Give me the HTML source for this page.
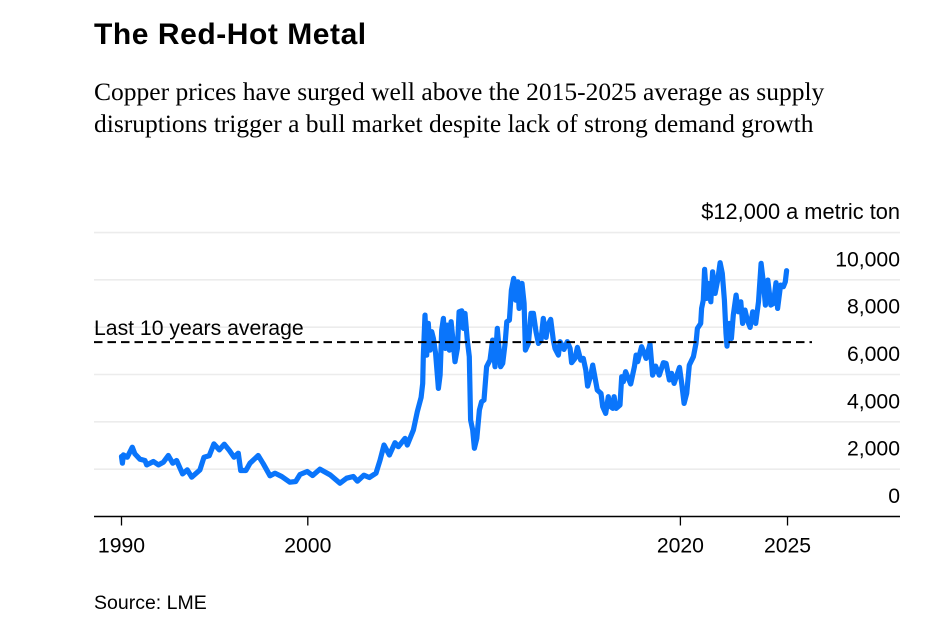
<!DOCTYPE html>
<html lang="en">
<head>
<meta charset="utf-8">
<title>The Red-Hot Metal</title>
<style>
html,body{margin:0;padding:0;background:#fff;}
body{width:939px;height:636px;overflow:hidden;position:relative;}
svg{position:absolute;left:0;top:0;}
.sans{font-family:"Liberation Sans",sans-serif;fill:#000;}
.serif{font-family:"Liberation Serif",serif;fill:#000;}
</style>
</head>
<body>
<svg id="chart" width="939" height="636" viewBox="0 0 939 636" xmlns="http://www.w3.org/2000/svg">
  <text class="sans" x="94" y="44" font-size="30" font-weight="700" letter-spacing="0.55">The Red-Hot Metal</text>
  <text class="serif" x="94" y="100" font-size="25.5">Copper prices have surged well above the 2015-2025 average as supply</text>
  <text class="serif" x="94" y="132" font-size="25.5">disruptions trigger a bull market despite lack of strong demand growth</text>
  <g id="grid"></g>
  <g id="ylabels"></g>
  <path id="series" fill="none" stroke="#0a75fb" stroke-width="5.2" stroke-linejoin="round" stroke-linecap="round"></path>
  <line id="avgline" stroke="#000" stroke-width="2" stroke-dasharray="8.5 5"></line>
  <text id="avglabel" class="sans" x="94" font-size="21.2">Last 10 years average</text>
  <line id="xaxis" stroke="#000" stroke-width="1.5"></line>
  <g id="xticks"></g>
  <text class="sans" x="94" y="609" font-size="19.5">Source: LME</text>
</svg>
<script>
const years = [1990.0,1990.05,1990.1,1990.31,1990.58,1990.72,1990.99,1991.26,1991.35,1991.71,1991.98,1992.25,1992.51,1992.75,1992.96,1993.28,1993.53,1993.77,1994.21,1994.43,1994.71,1994.96,1995.25,1995.52,1995.79,1996.04,1996.27,1996.40,1996.68,1996.90,1997.34,1997.61,1997.97,1998.24,1998.60,1999.04,1999.35,1999.58,1999.97,2000.26,2000.65,2001.19,2001.73,2002.08,2002.44,2002.66,2003.01,2003.30,2003.66,2003.88,2004.09,2004.38,2004.68,2004.86,2005.22,2005.34,2005.67,2005.88,2006.08,2006.17,2006.20,2006.29,2006.38,2006.47,2006.56,2006.65,2006.74,2006.86,2007.01,2007.10,2007.19,2007.28,2007.38,2007.49,2007.60,2007.69,2007.81,2007.90,2008.03,2008.12,2008.26,2008.35,2008.44,2008.56,2008.67,2008.74,2008.85,2008.94,2009.07,2009.21,2009.33,2009.46,2009.60,2009.78,2009.92,2010.05,2010.17,2010.35,2010.46,2010.59,2010.68,2010.82,2010.93,2011.05,2011.16,2011.27,2011.34,2011.50,2011.61,2011.68,2011.84,2011.98,2012.11,2012.25,2012.38,2012.52,2012.64,2012.79,2012.88,2013.04,2013.18,2013.27,2013.45,2013.54,2013.75,2013.93,2014.08,2014.16,2014.34,2014.47,2014.65,2014.79,2014.92,2015.02,2015.19,2015.29,2015.54,2015.74,2015.83,2015.99,2016.13,2016.26,2016.37,2016.44,2016.55,2016.76,2016.85,2016.94,2017.06,2017.33,2017.53,2017.62,2017.71,2017.92,2018.16,2018.37,2018.51,2018.67,2018.87,2019.09,2019.23,2019.41,2019.53,2019.66,2019.95,2020.07,2020.20,2020.34,2020.48,2020.70,2020.84,2020.91,2021.09,2021.14,2021.23,2021.30,2021.41,2021.50,2021.63,2021.73,2021.86,2022.00,2022.13,2022.25,2022.36,2022.45,2022.50,2022.63,2022.74,2022.84,2022.99,2023.11,2023.24,2023.34,2023.47,2023.59,2023.74,2023.88,2024.04,2024.19,2024.33,2024.45,2024.56,2024.69,2024.85,2024.99,2025.13,2025.22,2025.38,2025.53,2025.63,2025.70];
const prices = [2534,2253,2605,2506,2929,2647,2422,2365,2182,2323,2182,2295,2577,2253,2365,1802,1971,1661,1971,2506,2563,3069,2816,3055,2788,2506,2675,1943,1943,2253,2577,2225,1718,1830,1690,1450,1478,1774,1901,1732,1999,1760,1408,1619,1690,1492,1746,1647,1830,2387,3020,2598,3119,2950,3302,3020,3654,4428,5034,5625,6751,8511,6822,8159,7033,7808,7526,6892,5414,5977,7878,8371,7104,8089,7033,8230,7315,6540,7104,8652,8694,7948,8582,7456,6751,4076,3654,2880,3302,4499,4851,4921,6329,6610,7456,6329,7948,6329,6470,7315,8230,8300,9567,10060,9145,9919,8793,9849,9004,7033,7315,8582,8582,7808,7315,7456,8371,7568,8089,8328,7456,7104,6822,7385,7061,7385,7104,6498,6681,7146,6610,6681,6188,5512,5977,6399,5343,5202,4640,4358,5062,4640,4569,5062,4569,4710,5907,5695,6117,5597,6329,6822,6540,7174,6681,7286,5977,6357,5977,6498,6470,5766,6047,5625,6301,5625,4780,5202,6399,6751,7314,7948,8160,8793,9145,10441,9215,9849,9074,10342,9427,9990,10723,10272,9145,7737,7202,8160,7526,8511,9356,8652,9074,8160,8723,8300,7990,8652,8160,9074,10694,9919,8934,9990,8934,9004,9880,8793,9779,9709,9919,10385];
const averagePrice = 7370;
const yTickValues = [0,2000,4000,6000,8000,10000,12000];
const yTickLabels = ["0","2,000","4,000","6,000","8,000","10,000","$12,000 a metric ton"];
const xTickYears = [1990,2000,2020,2025.75];
const xTickLabels = ["1990","2000","2020","2025"];

const SVG_NS = "http://www.w3.org/2000/svg";
const xScale = y => 121.5 + (y - 1990) * 18.63;
const yScale = v => 516.5 - v * 47.33 / 2000;
const plotLeft = 94, plotRight = 900, avgRight = 812;

function mk(tag, attrs, parent, text) {
  const el = document.createElementNS(SVG_NS, tag);
  for (const k in attrs) el.setAttribute(k, attrs[k]);
  if (text !== undefined) el.textContent = text;
  parent.appendChild(el);
  return el;
}

const gridG = document.getElementById("grid");
const yLabelG = document.getElementById("ylabels");
yTickValues.forEach((v, i) => {
  if (v !== 0) {
    const gl = mk("line", {x1: plotLeft, x2: plotRight, y1: yScale(v), y2: yScale(v), stroke: "#ececec", "stroke-width": 1.6}, gridG);
    
    
  }
  const size = v === 12000 ? 21.8 : 21.2;
  const lab = mk("text", {x: plotRight, y: yScale(v) - 13.5, "text-anchor": "end", "font-size": size, "class": "sans"}, yLabelG, yTickLabels[i]);
  
  
});

const d = years.map((y, i) => (i ? "L" : "M") + xScale(y).toFixed(1) + " " + yScale(prices[i]).toFixed(1)).join("");
document.getElementById("series").setAttribute("d", d);

const avg = document.getElementById("avgline");
avg.setAttribute("x1", plotLeft);
avg.setAttribute("x2", avgRight);
avg.setAttribute("y1", yScale(averagePrice));
avg.setAttribute("y2", yScale(averagePrice));
document.getElementById("avglabel").setAttribute("y", yScale(averagePrice) - 7);

const axis = document.getElementById("xaxis");
axis.setAttribute("x1", plotLeft);
axis.setAttribute("x2", plotRight);
axis.setAttribute("y1", yScale(0));
axis.setAttribute("y2", yScale(0));

const xG = document.getElementById("xticks");
xTickYears.forEach((y, i) => {
  const t = mk("line", {x1: xScale(y), x2: xScale(y), y1: yScale(0), y2: yScale(0) + 9, stroke: "#000", "stroke-width": 1.3}, xG);
  
  
  const l = mk("text", {x: xScale(y), y: yScale(0) + 36, "text-anchor": "middle", "font-size": 21.2, "class": "sans"}, xG, xTickLabels[i]);
  
  
});
</script>
</body>
</html>
